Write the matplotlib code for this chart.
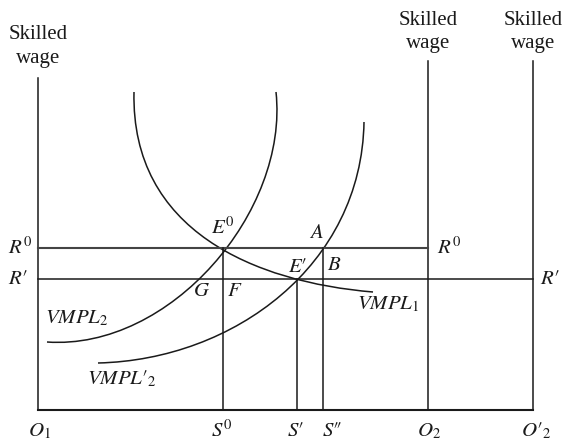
import matplotlib
matplotlib.use("Agg")
import matplotlib.pyplot as plt
from matplotlib.path import Path
from matplotlib.patches import PathPatch
import numpy as np

plt.rcParams['mathtext.fontset'] = 'stix'
plt.rcParams['font.family'] = ['Liberation Serif', 'DejaVu Serif']

# ---- data (conceptual units: x = labour from O1, y = skilled wage) ----
x_O1, x_S0, x_S1, x_S2, x_O2, x_O2p = 0, 185, 259, 285, 390, 495
wage_R0, wage_R1 = 162, 131
axis_top_left, axis_top_right = 332, 349

vmpl1_x = [96, 99, 107, 119, 135, 159, 186, 222, 259, 285, 335]
vmpl1_y = [318, 283, 251, 223, 198, 177, 162, 143, 131, 123, 118]
vmpl2_x = [238, 237, 233, 223, 209, 186, 159, 135, 102, 69, 35, 9]
vmpl2_y = [318, 283, 251, 219, 191, 162, 131, 107, 87, 75, 70, 68]
vmpl2p_x = [326, 322, 309, 299, 285, 259, 225, 185, 152, 102, 60]
vmpl2p_y = [288, 247, 207, 180, 162, 131, 100, 77, 63, 52, 47]

bottom_labels = [r'$O_1$', r'$S^0$', r'$S\prime$', r'$S\prime\!\prime$', r'$O_2$', r'$O\prime_2$']
bottom_pos = [x_O1, x_S0, x_S1, x_S2, x_O2, x_O2p]
bottom_offsets = [1, -1, -2, 9, 1, 3]   # label placement nudges (style)

fig = plt.figure(figsize=(5.65, 4.42), dpi=100)
ax = fig.add_axes([0, 0, 1, 1])
ax.set_xlim(-38, 527)
ax.set_ylim(-32, 410)
ax.axis('off')

LC = '#1a1a1a'
LW = 1.1


def bezier_fit_path(xs, ys):
    """Least-squares cubic Bezier through the read points (endpoints fixed)."""
    Q = np.column_stack([xs, ys]).astype(float)
    d = np.r_[0, np.cumsum(np.hypot(*np.diff(Q, axis=0).T))]
    t = d / d[-1]
    P0, P3 = Q[0], Q[-1]

    def basis(t):
        return (1 - t) ** 3, 3 * t * (1 - t) ** 2, 3 * t ** 2 * (1 - t), t ** 3

    for _ in range(20):
        b0, b1, b2, b3 = basis(t)
        R = Q - np.outer(b0, P0) - np.outer(b3, P3)
        A = np.column_stack([b1, b2])
        sol, *_ = np.linalg.lstsq(A, R, rcond=None)
        P1, P2 = sol
        B = (np.outer(b0, P0) + np.outer(b1, P1) + np.outer(b2, P2) + np.outer(b3, P3))
        dB = (3 * np.outer((1 - t) ** 2, P1 - P0) + 6 * np.outer(t * (1 - t), P2 - P1)
              + 3 * np.outer(t ** 2, P3 - P2))
        num = np.sum((B - Q) * dB, axis=1)
        den = np.sum(dB * dB, axis=1) + 1e-9
        t = np.clip(t - num / den, 0, 1)
        t[0], t[-1] = 0, 1
    b0, b1, b2, b3 = basis(t)
    R = Q - np.outer(b0, P0) - np.outer(b3, P3)
    sol, *_ = np.linalg.lstsq(np.column_stack([b1, b2]), R, rcond=None)
    P1, P2 = sol
    return Path([P0, P1, P2, P3], [Path.MOVETO, Path.CURVE4, Path.CURVE4, Path.CURVE4])


# axes
ax.plot([x_O1, x_O1], [0, axis_top_left], color=LC, lw=LW)
ax.plot([x_O2, x_O2], [0, axis_top_right], color=LC, lw=LW)
ax.plot([x_O2p, x_O2p], [0, axis_top_right], color=LC, lw=LW)
ax.plot([x_O1, x_O2p], [0, 0], color=LC, lw=LW + 0.4)

# wage lines
ax.plot([x_O1, x_O2], [wage_R0, wage_R0], color='#444444', lw=LW + 0.4)
ax.plot([x_O1, x_O2p], [wage_R1, wage_R1], color=LC, lw=LW)

# verticals
ax.plot([x_S0, x_S0], [0, wage_R0], color=LC, lw=LW)
ax.plot([x_S1, x_S1], [0, wage_R1], color=LC, lw=LW)
ax.plot([x_S2, x_S2], [0, wage_R0], color=LC, lw=LW)

for xs, ys in [(vmpl1_x, vmpl1_y), (vmpl2_x, vmpl2_y), (vmpl2p_x, vmpl2p_y)]:
    ax.add_patch(PathPatch(bezier_fit_path(xs, ys), facecolor='none', edgecolor=LC, lw=LW))

TC = '#1a1a1a'
FS = 15
# Skilled wage titles
ax.text(x_O1, 363.5, 'Skilled\nwage', ha='center', va='center', fontsize=FS, color=TC, linespacing=1.3)
ax.text(x_O2, 378, 'Skilled\nwage', ha='center', va='center', fontsize=FS, color=TC, linespacing=1.3)
ax.text(x_O2p, 378, 'Skilled\nwage', ha='center', va='center', fontsize=FS, color=TC, linespacing=1.3)

# wage labels
ax.text(-30, wage_R0, r'$R^0$', ha='left', va='center', fontsize=FS, color=TC)
ax.text(-30, wage_R1, r'$R\prime$', ha='left', va='center', fontsize=FS, color=TC)
ax.text(399, wage_R0, r'$R^0$', ha='left', va='center', fontsize=FS, color=TC)
ax.text(502, wage_R1, r'$R\prime$', ha='left', va='center', fontsize=FS, color=TC)

# point labels
ax.text(185, 182, r'$E^0$', ha='center', va='center', fontsize=FS, color=TC)
ax.text(278, 177, r'$A$', ha='center', va='center', fontsize=FS, color=TC)
ax.text(260, 143, r'$E\prime$', ha='center', va='center', fontsize=FS, color=TC)
ax.text(296, 144, r'$B$', ha='center', va='center', fontsize=FS, color=TC)
ax.text(164, 118, r'$G$', ha='center', va='center', fontsize=FS, color=TC)
ax.text(197, 118, r'$F$', ha='center', va='center', fontsize=FS, color=TC)

# curve labels
ax.text(319, 106, r'$VMPL_1$', ha='left', va='center', fontsize=FS, color=TC)
ax.text(7, 92, r'$VMPL_2$', ha='left', va='center', fontsize=FS, color=TC)
ax.text(49, 31, r'$VMPL\prime_2$', ha='left', va='center', fontsize=FS, color=TC)

# bottom labels
for lab, xp, off in zip(bottom_labels, bottom_pos, bottom_offsets):
    ax.text(xp + off, -21, lab, ha='center', va='center', fontsize=FS, color=TC)

fig.savefig('out.png', dpi=100)
